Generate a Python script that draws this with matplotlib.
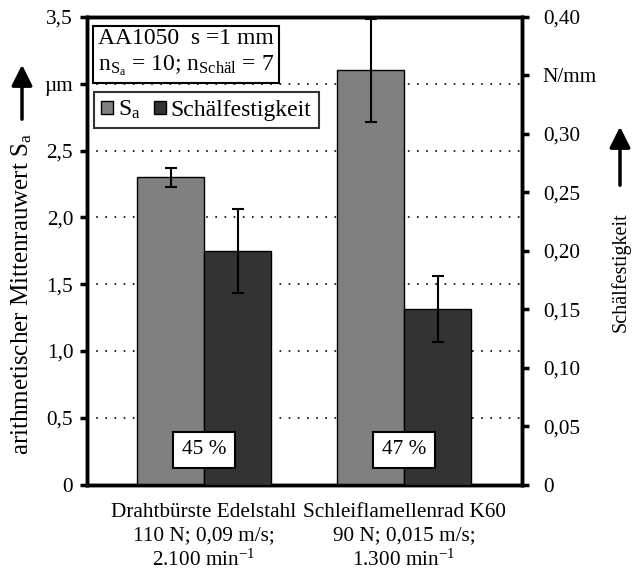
import matplotlib
matplotlib.use("Agg")
import matplotlib.pyplot as plt
from matplotlib.patches import Patch, FancyArrowPatch
import numpy as np

plt.rcParams['font.family'] = ['Liberation Serif', 'DejaVu Serif']
plt.rcParams['mathtext.fontset'] = 'custom'
plt.rcParams['mathtext.rm'] = 'Liberation Serif'
plt.rcParams['mathtext.it'] = 'Liberation Serif:italic'
plt.rcParams['mathtext.bf'] = 'Liberation Serif:bold'

# ---- data ----
categories = ["Drahtbürste Edelstahl\n110 N; 0,09 m/s;\n2.100 min$^{-1}$",
              "Schleiflamellenrad K60\n90 N; 0,015 m/s;\n1.300 min$^{-1}$"]
sa_values = [2.30, 3.10]
sa_errors = [0.073, 0.385]
peel_values = [0.200, 0.150]
peel_errors = [0.036, 0.0285]
percent_labels = ["45 %", "47 %"]
left_ticks = [0, 0.5, 1.0, 1.5, 2.0, 2.5, 3.0, 3.5]
left_ticklabels = ["0", "0,5", "1,0", "1,5", "2,0", "2,5", "µm", "3,5"]
right_ticks = [0, 0.05, 0.10, 0.15, 0.20, 0.25, 0.30, 0.35, 0.40]
right_ticklabels = ["0", "0,05", "0,10", "0,15", "0,20", "0,25", "0,30", "N/mm", "0,40"]

FS = 15.3
W, H = 632, 573
fig = plt.figure(figsize=(W / 100, H / 100), dpi=100)
ax = fig.add_axes([87 / W, 1 - 484.5 / H, (522 - 87) / W, (484.5 - 17) / H])
ax2 = ax.twinx()

x = np.arange(len(categories))
bw = 0.335
c_sa = "#808080"
c_peel = "#333333"

ax.bar(x - bw / 2, sa_values, bw, color=c_sa, edgecolor="black", linewidth=1.0, zorder=3)
ax.errorbar(x - bw / 2, sa_values, yerr=sa_errors, fmt="none", ecolor="black",
            elinewidth=1.5, capsize=4, capthick=1.5, zorder=4)
ax2.bar(x + bw / 2, peel_values, bw, color=c_peel, edgecolor="black", linewidth=1.0, zorder=3)
ax2.errorbar(x + bw / 2, peel_values, yerr=peel_errors, fmt="none", ecolor="black",
             elinewidth=1.5, capsize=4, capthick=1.5, zorder=4)

ax.set_xlim(-0.585, 1.59)
ax.set_ylim(0, 3.5)
ax2.set_ylim(0, 0.40)

# dotted gridlines on the left axis
ax.set_axisbelow(True)
for yv in left_ticks[1:-1]:
    ax.axhline(yv, color="black", linestyle=(0, (1, 4.5)), linewidth=1.2, zorder=1)

ax.set_yticks(left_ticks)
ax.set_yticklabels(left_ticklabels, fontsize=FS)
ax2.set_yticks(right_ticks)
ax2.set_yticklabels(right_ticklabels, fontsize=FS)
ax.set_xticks(x)
ax.set_xticklabels(categories, fontsize=FS, linespacing=1.3)
ax.tick_params(axis="x", length=0, pad=13)
ax.tick_params(axis="y", direction="out", length=5, width=2.5, pad=5)
ax2.tick_params(axis="y", direction="out", length=5, width=2.5, pad=10)

for a in (ax, ax2):
    for s in a.spines.values():
        s.set_linewidth(2.5)

# percent boxes
for xi, lab in zip(x, percent_labels):
    ax2.annotate(lab, xy=(xi, 0), xycoords=("data", "axes fraction"),
                 xytext=(0, (484.5 - 450) * 0.72), textcoords="offset points",
                 fontsize=FS, ha="center", va="center", zorder=10,
                 bbox=dict(boxstyle="square,pad=0.4", facecolor="white", edgecolor="black", linewidth=1.5))

# info text box
ax2.text((94 - 87 + 4) / 435, 1 - (24 - 17 + 4) / 467.5,
         "AA1050  s =1 mm\nn$_{\\mathrm{S}_\\mathrm{a}}$ = 10; n$_{\\mathrm{Schäl}}$ = 7",
         transform=ax2.transAxes, fontsize=17, ha="left", va="top", zorder=10, linespacing=1.25,
         bbox=dict(boxstyle="square,pad=0.2", facecolor="white", edgecolor="black", linewidth=1.5))

# legend
handles = [Patch(facecolor=c_sa, edgecolor="black", linewidth=1.0),
           Patch(facecolor=c_peel, edgecolor="black", linewidth=1.0)]
leg = ax2.legend(handles, ["S$_\\mathrm{a}$", "Schälfestigkeit"], loc="upper left",
                 bbox_to_anchor=((94 - 87) / 435, 1 - (92 - 17) / 467.5),
                 borderaxespad=0, fontsize=17, ncol=2, frameon=True, fancybox=False,
                 handlelength=0.5, handleheight=0.5, handletextpad=0.2, columnspacing=0.6,
                 borderpad=0.3)
leg.get_frame().set_edgecolor("black")
leg.get_frame().set_linewidth(1.5)
leg.set_zorder(10)

# axis labels with arrows
fig.text(22 / W, 1 - 294 / H, "arithmetischer Mittenrauwert S$_\\mathrm{a}$", rotation=90,
         fontsize=18, ha="center", va="center")
fig.text(621 / W, 1 - 272 / H, "Schälfestigkeit", rotation=90,
         fontsize=14.5, ha="center", va="center")
arrow_kw = dict(arrowstyle="-|>,head_length=0.9,head_width=0.45", color="black", linewidth=2.5)
fig.patches.append(FancyArrowPatch((22 / W, 1 - 122 / H), (22 / W, 1 - 62 / H),
                   transform=fig.transFigure, mutation_scale=14, **arrow_kw))
fig.patches.append(FancyArrowPatch((620 / W, 1 - 188 / H), (620 / W, 1 - 124 / H),
                   transform=fig.transFigure, mutation_scale=14, **arrow_kw))

fig.savefig("out.png", dpi=100)
